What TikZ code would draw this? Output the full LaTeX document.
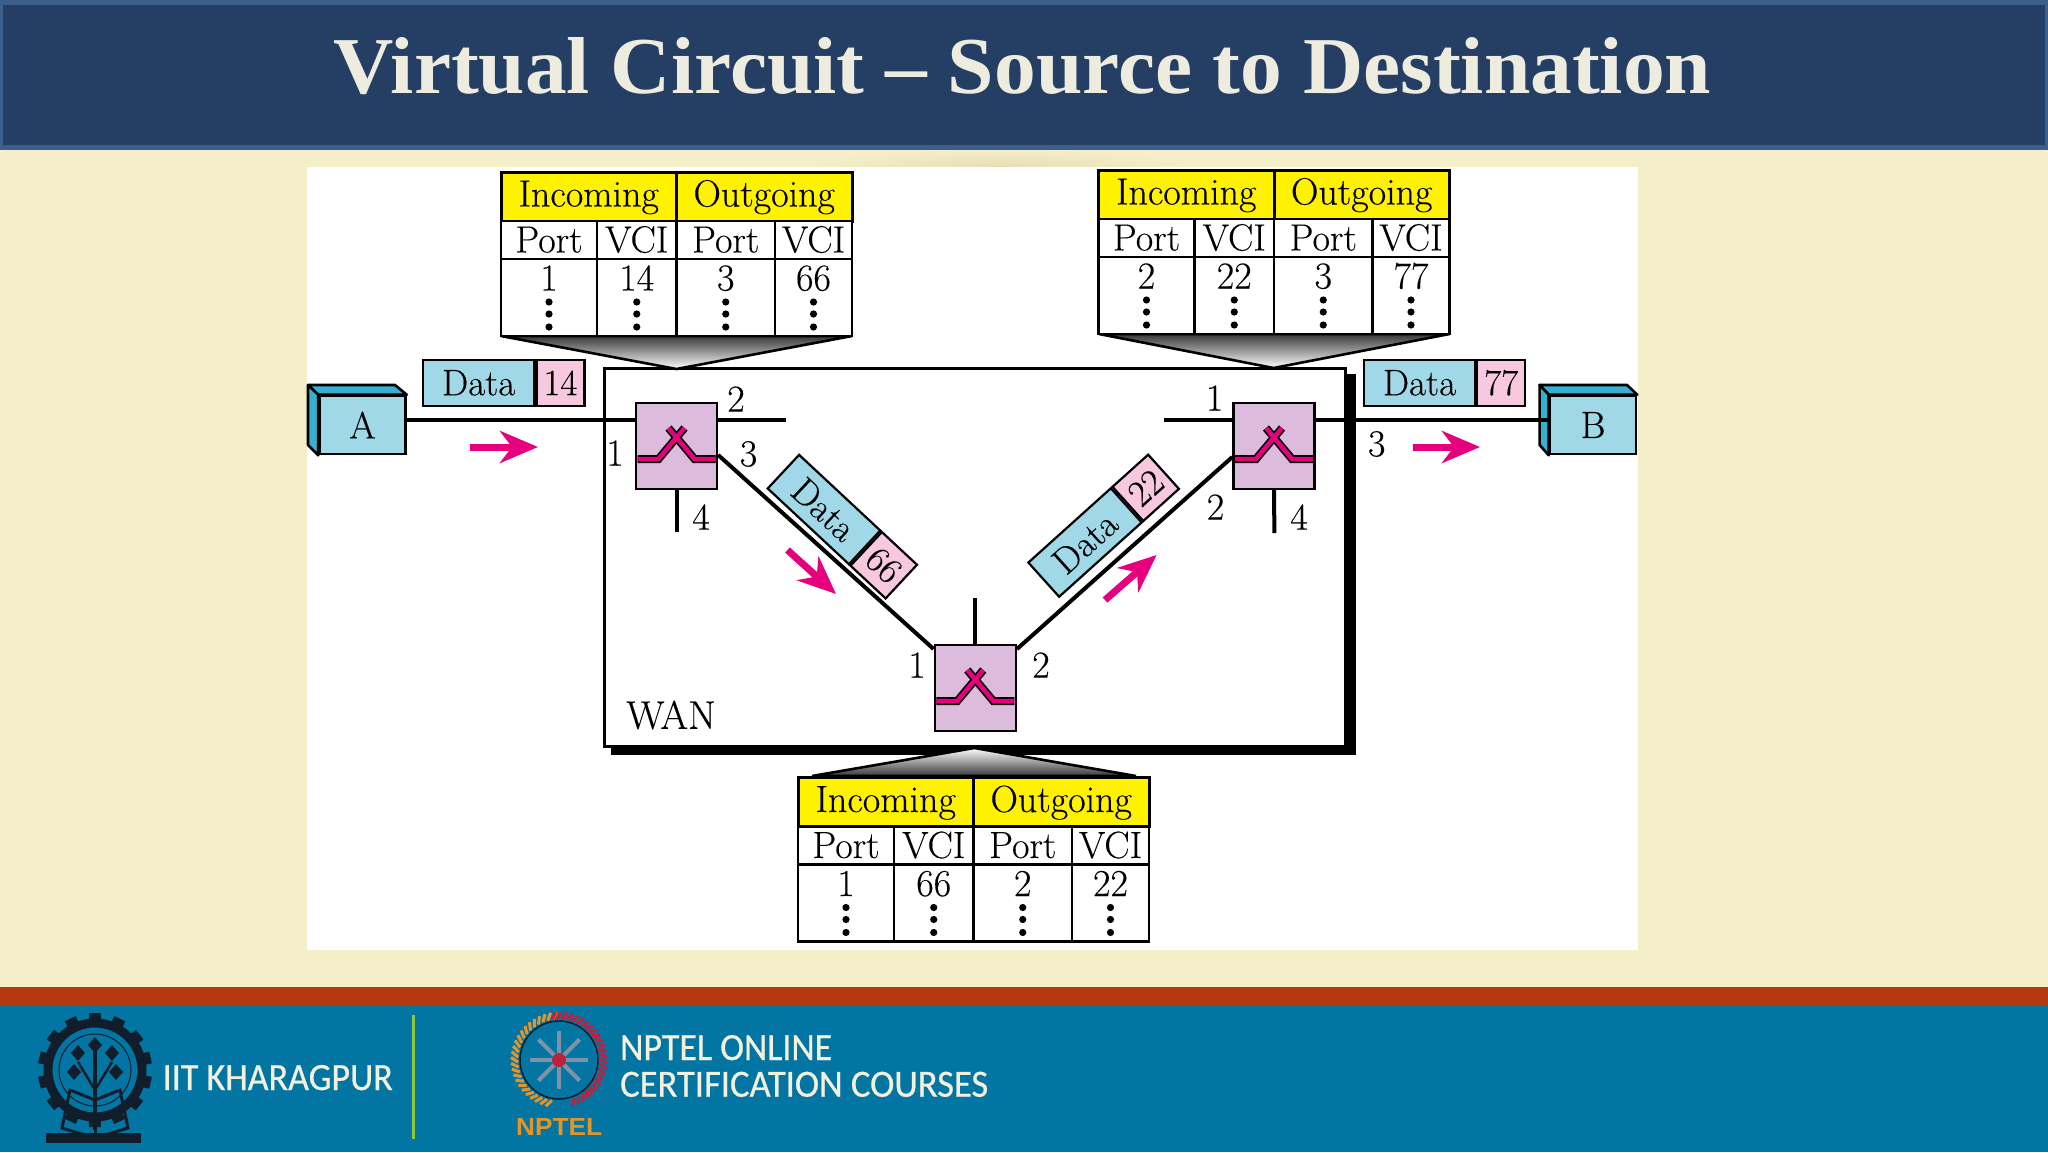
\documentclass[tikz,border=0pt]{standalone}
\usepackage{fontspec}
\usepackage{graphicx}
\usetikzlibrary{arrows.meta,calc,shadings}
\setmainfont{Latin Modern Roman}[FakeBold=0.25]
\newfontfamily\ttlfont{Liberation Serif}
\newfontfamily\footfont{Carlito}[FakeBold=0.6]
\newfontfamily\npfont{Liberation Sans}
\definecolor{bgbeige}{HTML}{F4EFC8}
\definecolor{smear}{HTML}{E9DDB6}
\definecolor{hdrdark}{HTML}{243F63}
\definecolor{hdrline}{HTML}{3C5E8C}
\definecolor{ttlcol}{HTML}{EEEBDF}
\definecolor{redband}{HTML}{B5380F}
\definecolor{footblue}{HTML}{0275A3}
\definecolor{foottxt}{HTML}{F3F0DC}
\definecolor{hostblue}{HTML}{A0D8E8}
\definecolor{hostdark}{HTML}{38AED0}
\definecolor{tagpink}{HTML}{F8C8E0}
\definecolor{swpurple}{HTML}{DDBBDD}
\definecolor{hotpink}{HTML}{E6007E}
\definecolor{gearblack}{HTML}{0F1E2A}
\definecolor{nporange}{HTML}{E2962A}
\definecolor{npred}{HTML}{C0203C}
\definecolor{npgrey}{HTML}{7E93A8}
\tikzset{
  txt/.style={font=\fontsize{38}{42}\selectfont,text=black},
  headcell/.style={draw=black,line width=3pt,fill=yellow,inner sep=0pt,minimum height=49pt,text height=28pt,text depth=8pt,txt},
  subcell/.style={draw=black,line width=2.6pt,fill=white,inner sep=0pt,minimum height=38pt,text height=29pt,text depth=4pt,txt},
  valcell/.style={draw=black,line width=2.6pt,fill=white,inner sep=0pt,minimum height=77pt},
  valtxt/.style={txt,inner sep=0pt,anchor=base},
  numlab/.style={inner sep=0pt,font=\fontsize{38}{42}\selectfont,text=black},
  taglabel/.style={draw=black,line width=2.2pt,inner sep=0pt,minimum height=46pt,font=\fontsize{37}{42}\selectfont,text=black},
  datatag/.style={taglabel,fill=hostblue,minimum width=111pt},
  numtag/.style={taglabel,fill=tagpink,minimum width=48pt},
  switchbox/.style={draw=black,line width=2.4pt,fill=swpurple,inner sep=0pt,minimum width=81pt,minimum height=86pt},
  hostface/.style={draw=black,line width=2.6pt,fill=hostblue,inner sep=0pt,minimum width=86pt,minimum height=58pt,font=\fontsize{38}{42}\selectfont,text=black},
  hostside/.style={draw=black,line width=2.6pt,fill=hostdark,line join=round},
  link/.style={draw=black,line width=4pt},
  flow/.style={draw=hotpink,line width=7pt,-{Stealth[length=38pt,width=32pt,inset=12pt]}},
  funnel/.style={draw=black,line width=2.6pt,line join=miter},
}
\newcommand\routetable[7]{%
\begin{scope}[shift={(#2,#3)}]
\node[headcell,minimum width=175.5pt] (#1in) at (87.75,24.5) {Incoming};
\node[headcell,minimum width=175.5pt] (#1out) at (263.25,24.5) {Outgoing};
\node[subcell,minimum width=96pt] (#1pa) at (48,68) {Port};
\node[subcell,minimum width=79.5pt] (#1va) at (135.75,68) {VCI};
\node[subcell,minimum width=98.5pt] (#1pb) at (224.75,68) {Port};
\node[subcell,minimum width=77pt] (#1vb) at (312.5,68) {VCI};
\node[valcell,minimum width=96pt] (#1ca) at (48,125.5) {};
\node[valcell,minimum width=79.5pt] (#1cb) at (135.75,125.5) {};
\node[valcell,minimum width=98.5pt] (#1cc) at (224.75,125.5) {};
\node[valcell,minimum width=77pt] (#1cd) at (312.5,125.5) {};
\node[valtxt] (#1ta) at (48,118.5) {#4};
\node[valtxt] (#1tb) at (135.75,118.5) {#5};
\node[valtxt] (#1tc) at (224.75,118.5) {#6};
\node[valtxt] (#1td) at (312.5,118.5) {#7};
\foreach \cx in {48,135.75,224.75,312.5}
  \foreach \cy in {130,142,155}
    \fill[black] (\cx,\cy) circle[radius=3.6pt];
\end{scope}}
\newcommand\switchicon[1]{%
\foreach \c/\w in {black/8,hotpink/4.5}{
 \draw[\c,line width=\w pt,line join=miter] ($(#1)+(-39,13)$) -- ($(#1)+(-18,13)$) -- ($(#1)+(8,-18)$);
 \draw[\c,line width=\w pt,line join=miter] ($(#1)+(39,13)$) -- ($(#1)+(18,13)$) -- ($(#1)+(-8,-18)$);
}}
\begin{document}
\begin{tikzpicture}[x=1pt,y=-1pt]
\useasboundingbox (0,0) rectangle (2048,1152);
% slide background
\fill[bgbeige] (0,0) rectangle (2048,1152);
\shade[inner color=smear,outer color=bgbeige] (1000,166) ellipse[x radius=185,y radius=17];
\fill[hdrline] (0,0) rectangle (2048,150);
\fill[hdrdark] (3,5) rectangle (2045,145);
\node[inner sep=0pt,anchor=base,text=ttlcol] (title) at (1022.5,93) {\resizebox{1377pt}{56pt}{\ttlfont\bfseries Virtual Circuit – Source to Destination}};
% panel
\fill[white] (307,167) rectangle (1638,950);
% WAN cloud
\fill[black] (611,374) rectangle (1355.5,755);
\draw[draw=black,fill=white,line width=3pt] (604,368) rectangle (1345,746);
\node[inner sep=0pt,font=\fontsize{40}{44}\selectfont,text=black] (wan) at (671,715) {WAN};
% funnels
\coordinate (tip1) at (676.5,369);
\coordinate (tip2) at (1273.6,368);
\coordinate (tip3) at (974.4,748);
\path[funnel,top color=black!78,bottom color=white] (501,336) -- (tip1) -- (852,336) -- cycle;
\path[funnel,top color=black!78,bottom color=white] (1099,334) -- (tip2) -- (1449.5,334) -- cycle;
\path[funnel,bottom color=black!78,top color=white] (812,776) -- (tip3) -- (1136,776) -- cycle;
% tables
\routetable{ta}{501}{172}{1}{14}{3}{66}
\routetable{tb}{1098.5}{170}{2}{22}{3}{77}
\routetable{tc}{798}{777.5}{1}{66}{2}{22}
% hosts
\node[hostface] (A) at (362.5,425) {A};
\draw[hostside] (A.north west) -- (308,385) -- (395,385) -- (A.north east) -- cycle;
\draw[hostside] (A.north west) -- (308,385) -- (308,445) -- (A.south west) -- cycle;
\node[hostface] (B) at (1593,425) {B};
\draw[hostside] (B.north west) -- (1539.6,385) -- (1627,385) -- (B.north east) -- cycle;
\draw[hostside] (B.north west) -- (1539.6,385) -- (1539.6,445) -- (B.south west) -- cycle;
% switches
\node[switchbox] (swa) at (676.5,446) {};
\node[switchbox] (swb) at (1274,446) {};
\node[switchbox] (swc) at (975.3,688) {};
\coordinate (stuba) at (786,420);
\coordinate (stubad) at (676.5,532);
\coordinate (stubb) at (1164,420);
\coordinate (stubbd) at (1274.4,533);
\coordinate (stubc) at (975.3,598);
\draw[link] (A.east |- 0,420) -- (swa.west |- 0,420);
\draw[link] (swa.east |- 0,420) -- (stuba);
\draw[link] (swa.south) -- (stubad);
\draw[link] (swa.east |- 0,455) -- (swc.west |- 0,649);
\draw[link] (swc.east |- 0,649) -- (swb.west |- 0,457);
\draw[link] (swc.north) -- (stubc);
\draw[link] (stubb) -- (swb.west |- 0,420);
\draw[link] (swb.east |- 0,420) -- (B.west |- 0,420);
\draw[link] (swb.south) -- (stubbd);
\switchicon{swa}
\switchicon{swb}
\switchicon{swc}
% data tags
\node[datatag] (da) at (478.7,382.8) {Data};
\node[numtag,anchor=west] (na) at (da.east) {14};
\node[datatag] (db) at (1419.5,382.8) {Data};
\node[numtag,anchor=west] (nb) at (db.east) {77};
\node[datatag,rotate=-43] (dc) at (824,509.5) {Data};
\node[numtag,rotate=-43,anchor=west] (nc) at (dc.east) {66};
\node[datatag,rotate=42] (dd) at (1085,542.5) {Data};
\node[numtag,rotate=42,anchor=west] (nd) at (dd.east) {22};
% flow arrows
\coordinate (fa0) at (470,447); \coordinate (fa1) at (538,447);
\coordinate (fb0) at (787.5,550); \coordinate (fb1) at (836,594);
\coordinate (fc0) at (1105,600); \coordinate (fc1) at (1156.6,555);
\coordinate (fd0) at (1412.5,447); \coordinate (fd1) at (1480,447);
\draw[flow] (fa0) -- (fa1);
\draw[flow] (fb0) -- (fb1);
\draw[flow] (fc0) -- (fc1);
\draw[flow] (fd0) -- (fd1);
% port numbers
\node[numlab] (p1) at (736,399) {2};
\node[numlab] (p2) at (615,453) {1};
\node[numlab] (p3) at (748.5,454) {3};
\node[numlab] (p4) at (701,517) {4};
\node[numlab] (p5) at (1214.6,398) {1};
\node[numlab] (p6) at (1215.5,507) {2};
\node[numlab] (p7) at (1299,517) {4};
\node[numlab] (p8) at (1376.7,444) {3};
\node[numlab] (p9) at (917,665) {1};
\node[numlab] (p10) at (1041,665) {2};
% footer
\fill[redband] (0,987) rectangle (2048,1005);
\fill[footblue] (0,1005) rectangle (2048,1152);
\node[inner sep=0pt,anchor=base west,text=foottxt] (iit) at (162.5,1090) {\resizebox{230pt}{25pt}{\footfont IIT KHARAGPUR}};
\draw[draw={rgb,255:red,140;green,198;blue,63},line width=3pt] (413,1015) -- (413,1139);
\node[inner sep=0pt,anchor=base west,text=foottxt] (nola) at (620,1060) {\resizebox{212pt}{25pt}{\footfont NPTEL ONLINE}};
\node[inner sep=0pt,anchor=base west,text=foottxt] (nolb) at (620,1096.7) {\resizebox{368pt}{25pt}{\footfont CERTIFICATION COURSES}};
\node[inner sep=0pt,anchor=base west,text=nporange] (npl) at (516,1135) {\resizebox{86pt}{17pt}{\npfont\bfseries NPTEL}};
% IIT emblem
\foreach \a in {0,25.7,...,359}
  \fill[gearblack,rotate around={\a:(95,1070)}] (89,1013) rectangle (101,1026);
\draw[gearblack,line width=9pt] (95,1070) circle[radius=47pt];
\draw[gearblack,line width=1pt] (95,1070) circle[radius=36pt];
\draw[gearblack,line width=4pt] (95,1130) -- (95,1048);
\draw[gearblack,line width=2.5pt] (95,1090) -- (78,1062);
\draw[gearblack,line width=2.5pt] (95,1090) -- (112,1062);
\foreach \lx/\ly in {95/1045,78/1053,112/1053,74/1072,116/1072}
  \fill[gearblack] (\lx,\ly-8) -- (\lx+7,\ly) -- (\lx,\ly+8) -- (\lx-7,\ly) -- cycle;
\draw[gearblack,line width=3pt] (70,1090) -- (95,1100) -- (120,1090) -- (128,1128) -- (95,1138) -- (62,1128) -- cycle;
\draw[gearblack,line width=3pt] (95,1100) -- (95,1138);
\fill[gearblack] (46,1133) rectangle (141,1143);
% NPTEL emblem
\draw[gearblack,line width=1.5pt] (559,1060) circle[radius=39pt];
\foreach \a in {100,107,...,262}
  \draw[nporange,line width=3pt] ($(559,1060)+(\a:41pt and -41pt)$) -- ($(559,1060)+(\a+6:48pt and -48pt)$);
\foreach \a in {-100,-93,...,72}
  \draw[npred,line width=3pt] ($(559,1060)+(\a:41pt and -41pt)$) -- ($(559,1060)+(\a+6:48pt and -48pt)$);
\foreach \a in {0,45,...,315}{
  \draw[npgrey,line width=4pt] (559,1060) -- ($(559,1060)+(\a:29pt and 29pt)$);
}
\fill[npred] (559,1060) circle[radius=7pt];
\end{tikzpicture}
\end{document}
